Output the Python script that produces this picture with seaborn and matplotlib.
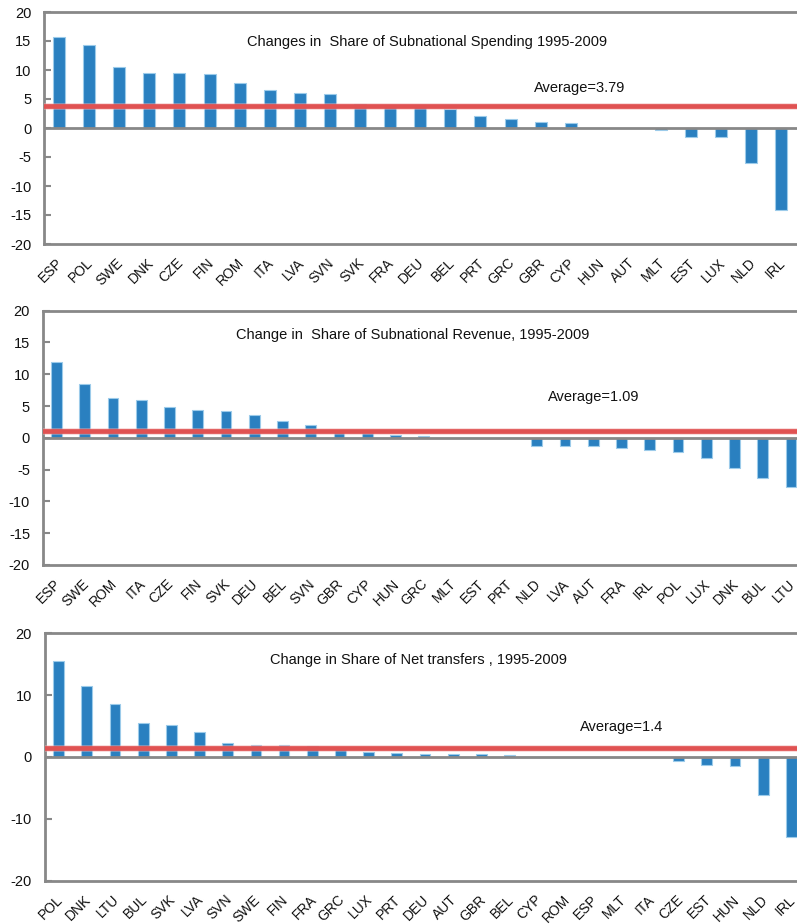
import matplotlib
matplotlib.use("Agg")
import matplotlib.pyplot as plt
import matplotlib.transforms as mtransforms
import seaborn as sns
import pandas as pd

# --- Data -----------------------------------------------------------------
spend_countries = ["ESP", "POL", "SWE", "DNK", "CZE", "FIN", "ROM", "ITA", "LVA",
                   "SVN", "SVK", "FRA", "DEU", "BEL", "PRT", "GRC", "GBR", "CYP",
                   "HUN", "AUT", "MLT", "EST", "LUX", "NLD", "IRL"]
spend_values = [15.7, 14.3, 10.5, 9.5, 9.5, 9.25, 7.8, 6.6, 6.1,
                5.8, 4.2, 3.8, 3.9, 3.2, 2.0, 1.55, 1.1, 0.8,
                0.0, 0.0, -0.35, -1.5, -1.5, -6.1, -14.1]
spend_avg = 3.79
spend_title = "Changes in  Share of Subnational Spending 1995-2009"

rev_countries = ["ESP", "SWE", "ROM", "ITA", "CZE", "FIN", "SVK", "DEU", "BEL",
                 "SVN", "GBR", "CYP", "HUN", "GRC", "MLT", "EST", "PRT", "NLD",
                 "LVA", "AUT", "FRA", "IRL", "POL", "LUX", "DNK", "BUL", "LTU"]
rev_values = [11.9, 8.4, 6.25, 6.0, 4.9, 4.45, 4.25, 3.6, 2.7,
              2.0, 0.95, 0.75, 0.5, 0.3, 0.0, 0.0, 0.0, -1.25,
              -1.25, -1.25, -1.6, -1.9, -2.2, -3.2, -4.7, -6.25, -7.8]
rev_avg = 1.09
rev_title = "Change in  Share of Subnational Revenue, 1995-2009"

net_countries = ["POL", "DNK", "LTU", "BUL", "SVK", "LVA", "SVN", "SWE", "FIN",
                 "FRA", "GRC", "LUX", "PRT", "DEU", "AUT", "GBR", "BEL", "CYP",
                 "ROM", "ESP", "MLT", "ITA", "CZE", "EST", "HUN", "NLD", "IRL"]
net_values = [15.5, 11.5, 8.5, 5.45, 5.25, 4.1, 2.3, 1.9, 1.9,
              1.8, 1.45, 0.75, 0.7, 0.5, 0.5, 0.5, 0.27, 0.0,
              0.0, 0.0, 0.0, 0.0, -0.65, -1.3, -1.5, -6.2, -12.9]
net_avg = 1.4
net_title = "Change in Share of Net transfers , 1995-2009"

# --- Style ----------------------------------------------------------------
sns.set_theme(style="white")
plt.rcParams["font.family"] = ["Liberation Sans", "DejaVu Sans"]

BAR = "#2a80c0"
BAR_EDGE = "#9ccbea"
AVG = "#e05252"
SPINE = "#888888"

W, H = 797, 924
fig = plt.figure(figsize=(W / 100, H / 100), dpi=100)


def px_axes(left, top, right, bottom):
    return fig.add_axes([left / W, 1 - bottom / H, (right - left) / W, (bottom - top) / H])


def panel(ax, countries, values, avg, title, yticks, bar_width,
          title_xy, avg_xy):
    df = pd.DataFrame({"country": countries, "value": values})
    sns.barplot(data=df, x="country", y="value", order=countries, ax=ax,
                color=BAR, saturation=1, width=bar_width,
                edgecolor=BAR_EDGE, linewidth=0.8)
    n = len(countries)
    ax.set_xlim(-0.5, n - 0.5)
    ax.set_ylim(-20, 20)
    ax.set_yticks(yticks)
    ax.set_yticklabels([str(t) for t in yticks])
    ax.set_xlabel("")
    ax.set_ylabel("")

    # zero line and average line
    ax.axhline(0, color=SPINE, lw=2, zorder=3)
    ax.axhline(avg, color="#f2b0b0", lw=4.8, zorder=4, alpha=0.5)
    ax.axhline(avg, color=AVG, lw=3.4, zorder=5)

    for side in ("left", "top", "bottom"):
        ax.spines[side].set_color(SPINE)
        ax.spines[side].set_linewidth(2)
    ax.spines["right"].set_visible(False)

    ax.tick_params(axis="y", direction="in", length=5, width=1.5,
                   color=SPINE, left=True, pad=9, labelsize=10.5,
                   labelcolor="#111111")
    ax.tick_params(axis="x", length=0, pad=8.5, labelsize=10,
                   labelcolor="#111111")
    shift = mtransforms.ScaledTranslation(-3 / 100, 0, fig.dpi_scale_trans)
    for lab in ax.get_xticklabels():
        lab.set_rotation(45)
        lab.set_ha("right")
        lab.set_rotation_mode("anchor")
        lab.set_transform(lab.get_transform() + shift)

    ax.text(title_xy[0], title_xy[1], title, transform=fig.transFigure,
            ha="center", va="center", fontsize=10.5, color="#111111")
    ax.text(avg_xy[0], avg_xy[1], f"Average={avg}", transform=fig.transFigure,
            ha="center", va="center", fontsize=10.5, color="#111111")


ax1 = px_axes(44, 12, 796.5, 244)
panel(ax1, spend_countries, spend_values, spend_avg, spend_title,
      [20, 15, 10, 5, 0, -5, -10, -15, -20], 0.4,
      (427 / W, 1 - 42 / H), (580 / W, 1 - 88 / H))

ax2 = px_axes(42.5, 310.7, 805, 565)
panel(ax2, rev_countries, rev_values, rev_avg, rev_title,
      [20, 15, 10, 5, 0, -5, -10, -15, -20], 0.38,
      (413 / W, 1 - 335 / H), (594 / W, 1 - 397 / H))

ax3 = px_axes(44.5, 633.3, 805.5, 880.7)
panel(ax3, net_countries, net_values, net_avg, net_title,
      [20, 10, 0, -10, -20], 0.38,
      (418 / W, 1 - 660 / H), (622 / W, 1 - 727 / H))

fig.savefig("out.png", dpi=100, facecolor="white")
